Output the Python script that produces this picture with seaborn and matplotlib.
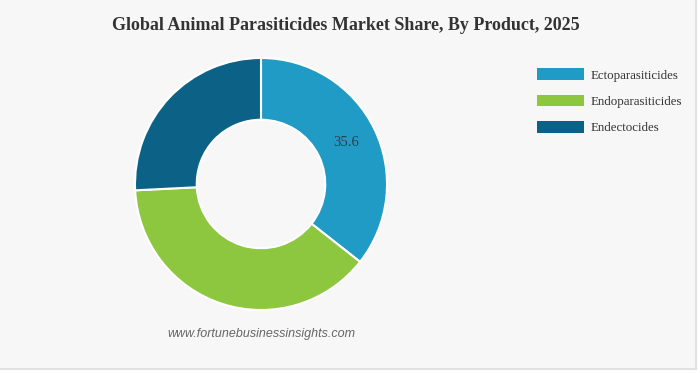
import matplotlib
matplotlib.use("Agg")
from matplotlib import pyplot as plt
from matplotlib.patches import Patch, Rectangle
from matplotlib.lines import Line2D
import seaborn as sns
import numpy as np

# market share by product, 2025 (%)
products = ['Ectoparasiticides', 'Endoparasiticides', 'Endectocides']
shares = [35.6, 38.6, 25.8]
colors = ['#1f9bc6', '#8dc63f', '#0b6186']
shown_label = '35.6'

sns.set_theme(style='white')
plt.rcParams['font.family'] = ['Liberation Serif', 'DejaVu Serif']

fig = plt.figure(figsize=(7, 3.73), dpi=100, facecolor='white')
# panel background, shadow only on bottom and right
fig.patches.append(Rectangle((0, 4 / 373), 696 / 700, 1 - 4 / 373, transform=fig.transFigure,
                             facecolor='#f7f7f7', edgecolor='none', zorder=-1))
fig.lines.append(Line2D([0, 696 / 700], [4 / 373, 4 / 373], transform=fig.transFigure,
                        color='#e2e2e2', lw=1.5))
fig.lines.append(Line2D([696 / 700, 696 / 700], [4 / 373, 1], transform=fig.transFigure,
                        color='#e2e2e2', lw=1.5))

ax = fig.add_axes([135 / 700, 63 / 373, 252 / 700, 252 / 373])
wedges, _ = ax.pie(shares, colors=colors, startangle=90, counterclock=False, radius=1,
                   wedgeprops=dict(width=0.49, edgecolor='white', linewidth=1.5))
ax.set_xlim(-1, 1)
ax.set_ylim(-1, 1)
ax.set_aspect('equal')
ax.axis('off')

# value label on first slice, placed at ring middle
mid = np.deg2rad(90 - shares[0] / 2 * 3.6)
r = 1 - 0.49 / 2
ax.text(r * np.cos(mid), r * np.sin(mid), shown_label, ha='center', va='center',
        fontsize=10.5, color='#2d3e4a')

fig.text(346 / 700, 1 - 26 / 373, 'Global Animal Parasiticides Market Share, By Product, 2025',
         ha='center', va='center', fontsize=13, fontweight='bold', color='#333333')

handles = [Patch(facecolor=c, edgecolor='none') for c in colors]
fig.legend(handles, products, loc='upper left', bbox_to_anchor=(531 / 700, 1 - 62 / 373),
           frameon=False, fontsize=9.3, handlelength=3.6, handleheight=1.05,
           labelspacing=0.98, handletextpad=0.55, borderpad=0, labelcolor='#333333')

fig.text(261 / 700, 1 - 334 / 373, 'www.fortunebusinessinsights.com', ha='center', va='center',
         fontsize=9, style='italic', color='#666666', family=['Liberation Sans', 'DejaVu Sans'])

fig.savefig('out.png', dpi=100, facecolor=fig.get_facecolor())
